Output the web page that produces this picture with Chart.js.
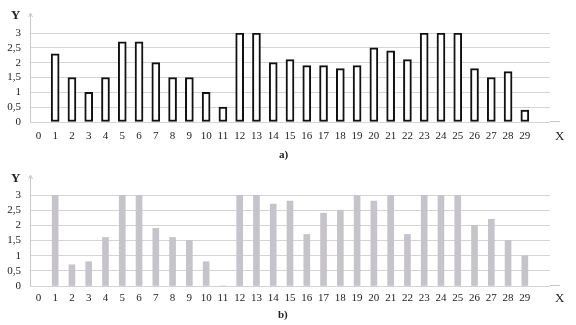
<!DOCTYPE html>
<html>
<head>
<meta charset="utf-8">
<script src="https://cdn.jsdelivr.net/npm/chart.js@4.4.1/dist/chart.umd.min.js"></script>
<style>
    body { margin: 0; background: #fff; width: 576px; height: 325px; position: relative; overflow: hidden; }
    canvas { position: absolute; left: 0; }
    .lbl { position: absolute; font-family: 'Liberation Serif', 'DejaVu Serif', serif; color: #222; line-height: 1; }
    .bold { font-weight: bold; }
</style>
</head>
<body>
<canvas id="chartA" width="576" height="160" style="top:0"></canvas>
<canvas id="chartB" width="576" height="163" style="top:162px"></canvas>

<div class="lbl bold" style="left:11px; top:8px; font-size:13px;">Y</div>
<div class="lbl" style="left:555px; top:129px; font-size:13px;">X</div>
<div class="lbl bold" style="left:279px; top:149px; font-size:11px;">a)</div>

<div class="lbl bold" style="left:11px; top:171px; font-size:13px;">Y</div>
<div class="lbl" style="left:555px; top:291px; font-size:13px;">X</div>
<div class="lbl bold" style="left:278px; top:309px; font-size:11px;">b)</div>

<script>
const xValues = [1, 2, 3, 4, 5, 6, 7, 8, 9, 10, 11, 12, 13, 14, 15, 16, 17, 18, 19, 20, 21, 22, 23, 24, 25, 26, 27, 28, 29];
const seriesA = [2.3, 1.5, 1.0, 1.5, 2.7, 2.7, 2.0, 1.5, 1.5, 1.0, 0.5, 3.0, 3.0, 2.0, 2.1, 1.9, 1.9, 1.8, 1.9, 2.5, 2.4, 2.1, 3.0, 3.0, 3.0, 1.8, 1.5, 1.7, 0.4];
const seriesB = [3.0, 0.7, 0.8, 1.6, 3.0, 3.0, 1.9, 1.6, 1.5, 0.8, 0, 3.0, 3.0, 2.7, 2.8, 1.7, 2.4, 2.5, 3.0, 2.8, 3.0, 1.7, 3.0, 3.0, 3.0, 2.0, 2.2, 1.5, 1.0];
const yStep = 0.5;

const tickFont = { family: "'Liberation Serif', 'DejaVu Serif', serif", size: 11 };

// faint axis lines with small arrows, like the scan
const arrows = {
    id: 'arrows',
    afterDraw(chart) {
        const { ctx, chartArea } = chart;
        ctx.save();
        ctx.strokeStyle = '#c8c8c8';
        ctx.lineWidth = 1;
        ctx.beginPath();
        ctx.moveTo(chartArea.left + 0.5, chartArea.bottom);
        ctx.lineTo(chartArea.left + 0.5, chartArea.top - 20);
        ctx.moveTo(chartArea.left - 1.5, chartArea.top - 16);
        ctx.lineTo(chartArea.left + 0.5, chartArea.top - 20);
        ctx.lineTo(chartArea.left + 2.5, chartArea.top - 16);
        ctx.moveTo(chartArea.right, chartArea.bottom - 0.5);
        ctx.lineTo(chartArea.right + 10, chartArea.bottom - 0.5);
        ctx.stroke();
        ctx.restore();
    }
};

function makeChart(id, values, style, axisHeight, labelPad) {
    const ctx = document.getElementById(id).getContext('2d');
    return new Chart(ctx, {
        type: 'bar',
        data: {
            datasets: [{
                data: xValues.map((x, i) => ({ x: x, y: values[i] })),
                ...style
            }]
        },
        options: {
            responsive: false,
            animation: false,
            layout: { padding: { top: 33, right: 26, left: 0, bottom: 0 } },
            plugins: { legend: { display: false }, tooltip: { enabled: false } },
            scales: {
                x: {
                    type: 'linear',
                    min: 0,
                    max: 30,
                    grid: { display: false, drawTicks: false },
                    border: { display: false },
                    ticks: {
                        stepSize: 1,
                        autoSkip: false,
                        maxRotation: 0,
                        padding: labelPad,
                        color: '#222',
                        font: tickFont,
                        callback: v => (v < 30 ? String(v) : '')
                    },
                    afterFit: scale => { scale.height = axisHeight; }
                },
                y: {
                    min: 0,
                    max: 3,
                    grid: { color: '#d4d4d4', drawTicks: false },
                    border: { display: false },
                    ticks: {
                        stepSize: yStep,
                        autoSkip: false,
                        padding: 9,
                        color: '#222',
                        font: tickFont,
                        callback: v => String(v).replace('.', ',')
                    },
                    afterFit: scale => { scale.width = 30; }
                }
            }
        },
        plugins: [arrows]
    });
}

makeChart('chartA', seriesA, {
    backgroundColor: '#ffffff',
    borderColor: '#111111',
    borderWidth: 2,
    barThickness: 8,
    borderSkipped: false
}, 38, 8);

makeChart('chartB', seriesB, {
    backgroundColor: '#c6c3cb',
    borderWidth: 0,
    barThickness: 6
}, 39, 6);
</script>
</body>
</html>
